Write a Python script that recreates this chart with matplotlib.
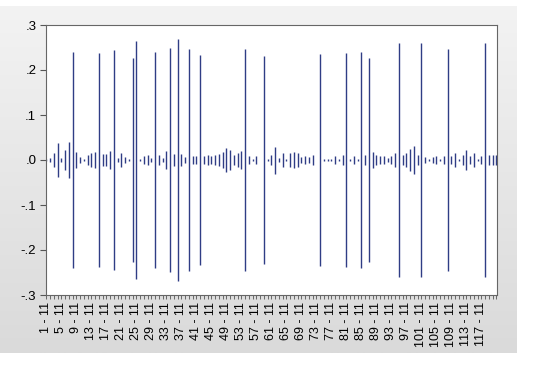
import numpy as np
import matplotlib
matplotlib.use("Agg")
import matplotlib.pyplot as plt
from matplotlib.colors import LinearSegmentedColormap

# half-height of each symmetric spike, observations 1..121
spike = [0.002, 0.004, 0.015, 0.037, 0.005, 0.022, 0.039, 0.239, 0.017, 0.006,
         0.003, 0.012, 0.015, 0.018, 0.238, 0.014, 0.013, 0.020, 0.245, 0.004,
         0.016, 0.006, 0.003, 0.226, 0.265, 0.002, 0.008, 0.012, 0.004, 0.239,
         0.011, 0.004, 0.019, 0.248, 0.013, 0.269, 0.013, 0.006, 0.247, 0.008,
         0.008, 0.233, 0.008, 0.012, 0.009, 0.011, 0.014, 0.018, 0.026, 0.022,
         0.011, 0.015, 0.020, 0.246, 0.008, 0.003, 0.008, 0.001, 0.232, 0.002,
         0.011, 0.030, 0.004, 0.015, 0.002, 0.015, 0.017, 0.015, 0.006, 0.008,
         0.006, 0.011, 0.001, 0.236, 0.002, 0.002, 0.002, 0.008, 0.002, 0.012,
         0.237, 0.002, 0.008, 0.002, 0.241, 0.012, 0.227, 0.018, 0.011, 0.008,
         0.009, 0.004, 0.009, 0.015, 0.259, 0.011, 0.015, 0.024, 0.032, 0.011,
         0.261, 0.007, 0.002, 0.006, 0.008, 0.002, 0.008, 0.247, 0.009, 0.015,
         0.002, 0.011, 0.022, 0.008, 0.015, 0.002, 0.008, 0.259, 0.012, 0.012,
         0.012]
obs = np.arange(1, len(spike) + 1)
tick_obs = np.arange(1, 118, 4)
tick_labels = ["%d - 11" % i for i in tick_obs]
ytick_vals = [0.3, 0.2, 0.1, 0.0, -0.1, -0.2, -0.3]
ytick_labels = [".3", ".2", ".1", ".0", "-.1", "-.2", "-.3"]

plt.rcParams["font.family"] = ["Liberation Sans", "DejaVu Sans"]

fig = plt.figure(figsize=(5.5, 3.7), dpi=100)
fig.patch.set_facecolor("white")

# grey gradient panel behind the chart
bg = fig.add_axes([0, 0.045, 0.94, 0.94], zorder=-1)
grad = np.linspace(0, 1, 256).reshape(-1, 1)
bg.imshow(grad, aspect="auto", extent=[0, 1, 0, 1],
          cmap=LinearSegmentedColormap.from_list("g", ["#f3f3f3", "#dadada"]))
bg.axis("off")

ax = fig.add_axes([46 / 550, 75 / 370, 451 / 550, 270 / 370])
ax.set_facecolor("white")
v = np.array(spike)
ax.vlines(obs, -v, v, color="#2f3d85", linewidth=1.0)

ax.set_xlim(0.87, 121.2)
ax.set_ylim(-0.3, 0.3)
ax.set_yticks(ytick_vals)
ax.set_yticklabels(ytick_labels, fontsize=9.5)
ax.set_xticks(tick_obs)
ax.set_xticklabels(tick_labels, rotation=90, fontsize=9)
ax.set_xticks(obs, minor=True)
ax.tick_params(axis="y", direction="out", length=4, width=0.8, color="#555555", pad=3)
ax.tick_params(axis="x", which="both", direction="out", length=3, width=0.6, color="#555555", pad=2)
for s in ax.spines.values():
    s.set_color("#666666")
    s.set_linewidth(0.8)

fig.savefig("out.png", dpi=100)
